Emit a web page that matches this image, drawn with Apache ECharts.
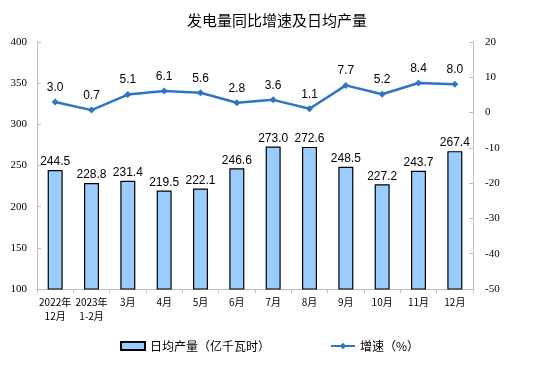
<!DOCTYPE html>
<html><head><meta charset="utf-8">
<script src="https://cdn.jsdelivr.net/npm/echarts@6/dist/echarts.min.js"></script>
<style>html,body{margin:0;padding:0;background:#fff}#c{width:554px;height:379px}</style>
</head><body><div id="c"></div>
<script>
const categories = ['2022年\n12月','2023年\n1-2月','3月','4月','5月','6月','7月','8月','9月','10月','11月','12月'];
const dailyOutput = [244.5,228.8,231.4,219.5,222.1,246.6,273.0,272.6,248.5,227.2,243.7,267.4];
const growth = [3.0,0.7,5.1,6.1,5.6,2.8,3.6,1.1,7.7,5.2,8.4,8.0];
const leftTicks = {min:100,max:400,interval:50};
const rightTicks = {min:-50,max:20,interval:10};

const chart = echarts.init(document.getElementById('c'));
const serif = '"Liberation Serif","DejaVu Serif",serif';
const cjk = '"Noto Sans CJK SC",sans-serif';
chart.setOption({
  animation:false,
  title:{text:'发电量同比增速及日均产量',left:'center',top:8,textStyle:{fontFamily:cjk,fontSize:15,fontWeight:'normal',color:'#000'}},
  grid:{left:37,right:81,top:42,bottom:90},
  legend:{bottom:22,left:115,itemGap:60,itemWidth:24,itemHeight:8,
    textStyle:{fontFamily:cjk,fontSize:12,color:'#000'},
    data:[{name:'日均产量（亿千瓦时）',icon:'rect'},{name:'增速（%）'}]},
  xAxis:{type:'category',data:categories,
    axisLine:{onZero:false,lineStyle:{color:'#bfbfbf'}},
    axisTick:{show:true,alignWithLabel:false,length:4,lineStyle:{color:'#bfbfbf'}},
    axisLabel:{fontFamily:cjk,fontSize:10,color:'#000',interval:0,lineHeight:14,margin:6}},
  yAxis:[
    {type:'value',min:leftTicks.min,max:leftTicks.max,interval:leftTicks.interval,
     splitLine:{show:false},axisLine:{show:true,lineStyle:{color:'#bfbfbf'}},
     axisTick:{show:true,inside:true,length:4,lineStyle:{color:'#bfbfbf'}},
     axisLabel:{fontFamily:serif,fontSize:11,color:'#000',margin:10}},
    {type:'value',min:rightTicks.min,max:rightTicks.max,interval:rightTicks.interval,
     splitLine:{show:false},axisLine:{show:true,lineStyle:{color:'#bfbfbf'}},
     axisTick:{show:true,inside:true,length:4,lineStyle:{color:'#bfbfbf'}},
     axisLabel:{fontFamily:serif,fontSize:11,color:'#000',margin:12}}
  ],
  series:[
    {name:'日均产量（亿千瓦时）',type:'bar',data:dailyOutput,barWidth:15,yAxisIndex:0,
     itemStyle:{color:'#99ccff',borderColor:'#000',borderWidth:1.2},
     label:{show:true,position:'top',distance:2,fontFamily:'"Liberation Sans",Arial,sans-serif',fontSize:12,color:'#000',formatter:p=>p.value.toFixed(1)}},
    {name:'增速（%）',type:'line',data:growth,yAxisIndex:1,
     symbol:'diamond',symbolSize:7,
     lineStyle:{color:'#2e75c6',width:2.5},itemStyle:{color:'#2e75c6'},
     label:{show:true,position:'top',distance:5,fontFamily:'"Liberation Sans",Arial,sans-serif',fontSize:12,color:'#000',formatter:p=>p.value.toFixed(1)}}
  ]
});
</script></body></html>
